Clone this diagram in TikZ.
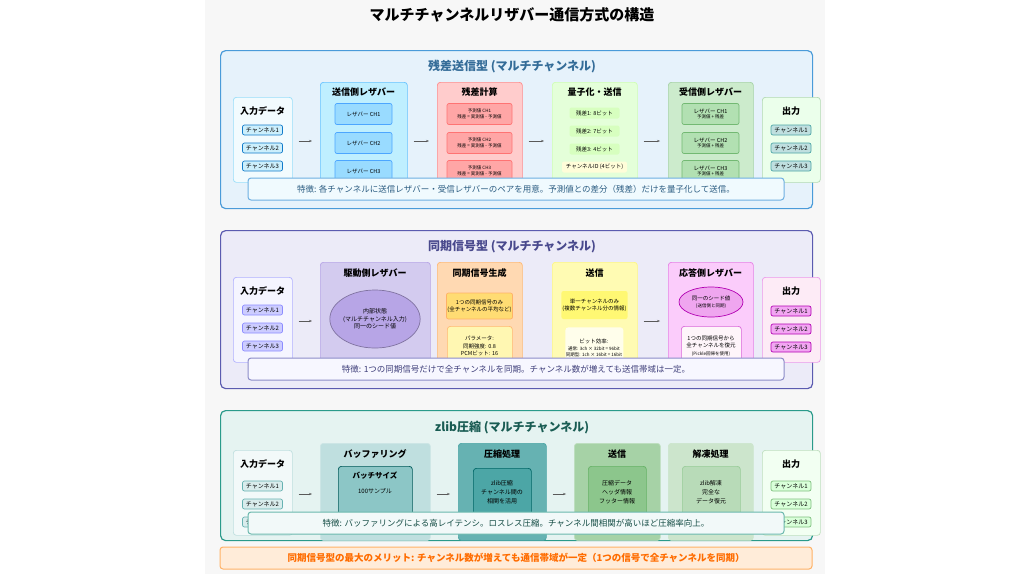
\documentclass[tikz,border=0pt]{standalone}
\usepackage{fontspec}
\setmainfont{Noto Sans CJK JP}
\usetikzlibrary{arrows.meta,shapes.geometric}
\definecolor{pAfill}{HTML}{E6F2FB}\definecolor{pAline}{HTML}{4A9BD9}
\definecolor{pBfill}{HTML}{ECEBF8}\definecolor{pBline}{HTML}{5B5BB0}
\definecolor{pCfill}{HTML}{E5F3F1}\definecolor{pCline}{HTML}{2A9A8A}
\definecolor{drvfill}{HTML}{D3CBEF}\definecolor{drvell}{HTML}{B7A5E6}
\tikzset{
	x=1pt, y=-1pt,
	every path/.style = {line width=0.7pt},
	panel/.style = {draw, rounded corners=5pt, line width=1.2pt, anchor=north west, inner sep=0},
	col/.style = {draw, rounded corners=3pt, anchor=north west, inner sep=0},
	sub/.style = {draw, rounded corners=2pt, align=center, inner sep=1pt, font=\fontsize{5.5}{6.5}\selectfont},
	chip/.style = {draw, rounded corners=2pt, minimum width=40, minimum height=10, inner sep=0, font=\fontsize{6}{7}\selectfont},
	hd/.style = {font=\bfseries\fontsize{9}{10}\selectfont},
	ptitle/.style = {font=\bfseries\fontsize{12}{14}\selectfont},
	note/.style = {draw, rounded corners=3pt, line width=1pt, minimum width=536, minimum height=22, font=\fontsize{8.5}{10}\selectfont},
	arr/.style = {-{Stealth[length=3pt]}, gray!70!black, line width=0.8pt, shorten <=6pt, shorten >=8pt}
}
\begin{document}
\begin{tikzpicture}
	\useasboundingbox[fill=white] (0,0) rectangle (1024,574);
	\fill[gray!6] (205,0) rectangle (825,574);
	\node[font=\bfseries\fontsize{15}{17}\selectfont] (title) at (512,15) {マルチチャンネルリザバー通信方式の構造};

	% --- residual type ---
	\node[panel, fill=pAfill, draw=pAline, minimum width=592, minimum height=158] (pa) at (220,50) {};
	\node[ptitle, text=pAline!70!black] (pat) at (512,67) {残差送信型 (マルチチャンネル)};
	\node[col, fill=cyan!5, draw=cyan!40, minimum width=59, minimum height=85] (ain) at (233,97) {};
	\node[hd] at (262.5,111) {入力データ};
	\foreach \i/\y in {1/130,2/148,3/166}
		\node[chip, fill=cyan!20, draw=cyan!60!blue] (ainc\i) at (262.5,\y) {チャンネル\i};
	\node[col, fill=blue!25!cyan!25, draw=blue!40!cyan!60, minimum width=87, minimum height=112] (atx) at (320,82) {};
	\node[hd] at (363.5,92) {送信側レザバー};
	\foreach \i/\y in {1/114,2/143,3/171}
		\node[sub, fill=blue!35!cyan!40, draw=blue!50!cyan!70, minimum width=57, minimum height=21] (atx\i) at (363.5,\y) {レザバー CH\i};
	\node[col, fill=red!20, draw=red!45, minimum width=85, minimum height=112] (ares) at (437,82) {};
	\node[hd] at (479.5,92) {残差計算};
	\foreach \i/\y in {1/114,2/143,3/171}
		\node[sub, fill=red!35, draw=red!55, minimum width=65, minimum height=21, font=\fontsize{4.5}{5.5}\selectfont] (ares\i) at (479.5,\y) {予測値 CH\i\\残差 = 実測値 - 予測値};
	\node[col, fill=lime!40!green!15, draw=lime!50!green!30, minimum width=85, minimum height=112] (aq) at (552,82) {};
	\node[hd] at (594.5,92) {量子化・送信};
	\foreach \i/\b/\y in {1/8/113,2/7/131,3/4/149}
		\node[sub, fill=lime!50!green!25, draw=none, minimum width=50, minimum height=11] (aq\i) at (594.5,\y) {残差\i: \b ビット};
	\node[sub, fill=yellow!15, draw=none, minimum width=65, minimum height=11] (aqid) at (594.5,167) {チャンネルID (4ビット)};
	\node[col, fill=green!60!black!20, draw=green!50!black!35, minimum width=85, minimum height=112] (arx) at (668,82) {};
	\node[hd] at (710.5,92) {受信側レザバー};
	\foreach \i/\y in {1/114,2/143,3/171}
		\node[sub, fill=green!60!black!30, draw=green!50!black!55, minimum width=57, minimum height=21] (arx\i) at (710.5,\y) {レザバー CH\i\\[-1pt]{\fontsize{4.5}{5}\selectfont 予測値 + 残差}};
	\node[col, fill=green!8, draw=green!50!black!30, minimum width=58, minimum height=85] (aout) at (762,97) {};
	\node[hd] at (791,111) {出力};
	\foreach \i/\y in {1/130,2/148,3/166}
		\node[chip, fill=teal!25, draw=teal!70] (aoutc\i) at (791,\y) {チャンネル\i};
	\draw[arr] (ain.east |- 0,141) -- (atx.west |- 0,141);
	\draw[arr] (atx.east |- 0,141) -- (ares.west |- 0,141);
	\draw[arr] (ares.east |- 0,141) -- (aq.west |- 0,141);
	\draw[arr] (aq.east |- 0,141) -- (arx.west |- 0,141);
	\node[note, fill=cyan!6, draw=pAline!80, text=pAline!60!black] (anote) at (516,189) {特徴: 各チャンネルに送信レザバー・受信レザバーのペアを用意。予測値との差分（残差）だけを量子化して送信。};

	% --- sync type ---
	\node[panel, fill=pBfill, draw=pBline, minimum width=592, minimum height=158] (pb) at (220,230) {};
	\node[ptitle, text=pBline!80!black] (pbt) at (512,247) {同期信号型 (マルチチャンネル)};
	\node[col, fill=blue!4, draw=blue!30, minimum width=59, minimum height=85] (bin) at (233,277) {};
	\node[hd] at (262.5,291) {入力データ};
	\foreach \i/\y in {1/310,2/328,3/346}
		\node[chip, fill=blue!20, draw=blue!45] (binc\i) at (262.5,\y) {チャンネル\i};
	\node[col, fill=drvfill, draw=drvell, minimum width=110, minimum height=112] (bdrv) at (320,262) {};
	\node[hd] at (375,273) {駆動側レザバー};
	\node[ellipse, draw=drvell!70!black, fill=drvell, minimum width=72, minimum height=58, align=center, inner sep=0, font=\fontsize{6}{7.5}\selectfont] (bdrvs) at (375,319) {内部状態\\(マルチチャンネル入力)\\同一のシード値};
	\node[col, fill=orange!30, draw=orange!55, minimum width=85, minimum height=112] (bgen) at (437,262) {};
	\node[hd] at (479.5,273) {同期信号生成};
	\node[sub, fill=orange!50!yellow!55, draw=orange!60, minimum width=65, minimum height=26] (bgen1) at (479.5,306) {1つの同期信号のみ\\(全チャンネルの平均など)};
	\node[col, fill=orange!20!yellow!30, draw=orange!55, minimum width=65, minimum height=40] (bgen2) at (447,326) {};
	\node[font=\fontsize{5.5}{7.5}\selectfont, align=center] at (479.5,346) {パラメータ:\\同期強度: 0.8\\PCMビット: 16};
	\node[col, fill=yellow!30, draw=yellow!50, minimum width=85, minimum height=112] (btx) at (552,262) {};
	\node[hd] at (594.5,273) {送信};
	\node[sub, fill=yellow!55, draw=none, minimum width=60, minimum height=28] (btx1) at (594.5,305) {単一チャンネルのみ\\(複数チャンネル分の情報)};
	\node[col, fill=yellow!8, draw=none, minimum width=58, minimum height=40] (btx2) at (565,327) {};
	\node[font=\fontsize{4.5}{6.5}\selectfont, align=center] at (594,348) {{\fontsize{5.5}{6}\selectfont ビット効率:}\\通常: 3ch × 32bit = 96bit\\同期型: 1ch × 16bit = 16bit};
	\node[col, fill=violet!15!magenta!20, draw=violet!40!magenta!50, minimum width=85, minimum height=112] (brsp) at (668,262) {};
	\node[hd] at (710.5,273) {応答側レザバー};
	\node[ellipse, draw=violet!60!magenta, fill=violet!35!magenta!35, minimum width=64, minimum height=30, align=center, inner sep=0, font=\fontsize{5.5}{6.5}\selectfont] (brsps) at (711,302) {同一のシード値\\{\fontsize{4.5}{5}\selectfont(送信側と同期)}};
	\node[col, fill=magenta!4, draw=violet!50!magenta!60, minimum width=60, minimum height=42] (brsp2) at (681,326) {};
	\node[font=\fontsize{5.5}{7.5}\selectfont, align=center] at (711,346) {1つの同期信号から\\全チャンネルを復元\\{\fontsize{4.5}{5}\selectfont(Pickle回帰を使用)}};
	\node[col, fill=magenta!8, draw=violet!40!magenta!40, minimum width=58, minimum height=85] (bout) at (762,277) {};
	\node[hd] at (791,291) {出力};
	\foreach \i/\y in {1/311,2/329,3/347}
		\node[chip, fill=violet!30!magenta!35, draw=violet!60!magenta] (boutc\i) at (791,\y) {チャンネル\i};
	\draw[arr] (bin.east |- 0,321) -- (bdrv.west |- 0,321);
	\draw[arr] (btx.east |- 0,321) -- (brsp.west |- 0,321);
	\node[note, fill=blue!3, draw=pBline!70, text=pBline!70!black] (bnote) at (516,369) {特徴: 1つの同期信号だけで全チャンネルを同期。チャンネル数が増えても送信帯域は一定。};

	% --- zlib ---
	\node[panel, fill=pCfill, draw=pCline, minimum width=592, minimum height=130] (pc) at (220,410) {};
	\node[ptitle, text=pCline!60!black] (pct) at (512,428) {zlib圧縮 (マルチチャンネル)};
	\node[col, fill=teal!5, draw=teal!25, minimum width=59, minimum height=85] (cin) at (233,450) {};
	\node[hd] at (262.5,464) {入力データ};
	\foreach \i/\y in {1/486,2/504,3/522}
		\node[chip, fill=teal!15, draw=teal!60] (cinc\i) at (262.5,\y) {チャンネル\i};
	\node[col, fill=teal!25, draw=teal!20, minimum width=110, minimum height=97] (cbuf) at (320,443) {};
	\node[hd] at (375,454) {バッファリング};
	\node[col, fill=teal!45, draw=teal!70!black, minimum width=74, minimum height=62] (cbuf1) at (338,466) {};
	\node[font=\bfseries\fontsize{7.5}{9}\selectfont] at (375,476) {バッチサイズ};
	\node[font=\fontsize{6}{7}\selectfont] at (375,491) {100サンプル};
	\node[col, fill=teal!60, draw=teal!70, minimum width=88, minimum height=97] (ccmp) at (458,443) {};
	\node[hd] at (502,454) {圧縮処理};
	\node[col, fill=teal!70, draw=teal!80!black, minimum width=58, minimum height=60] (ccmp1) at (473,468) {};
	\node[font=\fontsize{6}{9}\selectfont, align=center] at (502,492) {zlib圧縮\\チャンネル間の\\相関を活用};
	\node[col, fill=green!50!black!35, draw=green!50!black!25, minimum width=86, minimum height=97] (ctx) at (574,443) {};
	\node[hd] at (617,454) {送信};
	\node[col, fill=green!50!black!45, draw=green!50!black!60, minimum width=58, minimum height=60] (ctx1) at (588,466) {};
	\node[font=\fontsize{6}{9}\selectfont, align=center] at (617,492) {圧縮データ\\ヘッダ情報\\フッター情報};
	\node[col, fill=green!50!black!20, draw=green!50!black!20, minimum width=85, minimum height=97] (cdec) at (668,443) {};
	\node[hd] at (710.5,454) {解凍処理};
	\node[col, fill=green!50!black!28, draw=green!50!black!40, minimum width=58, minimum height=60] (cdec1) at (682,466) {};
	\node[font=\fontsize{6}{9}\selectfont, align=center] at (711,492) {zlib解凍\\完全な\\データ復元};
	\node[col, fill=green!5, draw=green!50!black!25, minimum width=58, minimum height=85] (cout) at (762,450) {};
	\node[hd] at (791,464) {出力};
	\foreach \i/\y in {1/486,2/504,3/522}
		\node[chip, fill=green!15, draw=green!50!black!50] (coutc\i) at (791,\y) {チャンネル\i};
	\draw[arr] (cin.east |- 0,494) -- (cbuf.west |- 0,494);
	\draw[arr] (cbuf.east |- 0,494) -- (ccmp.west |- 0,494);
	\draw[arr] (ccmp.east |- 0,494) -- (ctx.west |- 0,494);
	\node[note, fill=teal!5, draw=pCline!70, text=pCline!50!black] (cnote) at (516,523) {特徴: バッファリングによる高レイテンシ。ロスレス圧縮。チャンネル間相関が高いほど圧縮率向上。};

	% --- banner ---
	\node[draw=orange!60, fill=orange!15, rounded corners=3pt, line width=1pt, minimum width=592, minimum height=22, text=orange!85!red, font=\bfseries\fontsize{9.5}{11}\selectfont] (merit) at (516,558) {同期信号型の最大のメリット: チャンネル数が増えても通信帯域が一定（1つの信号で全チャンネルを同期）};
\end{tikzpicture}
\end{document}
